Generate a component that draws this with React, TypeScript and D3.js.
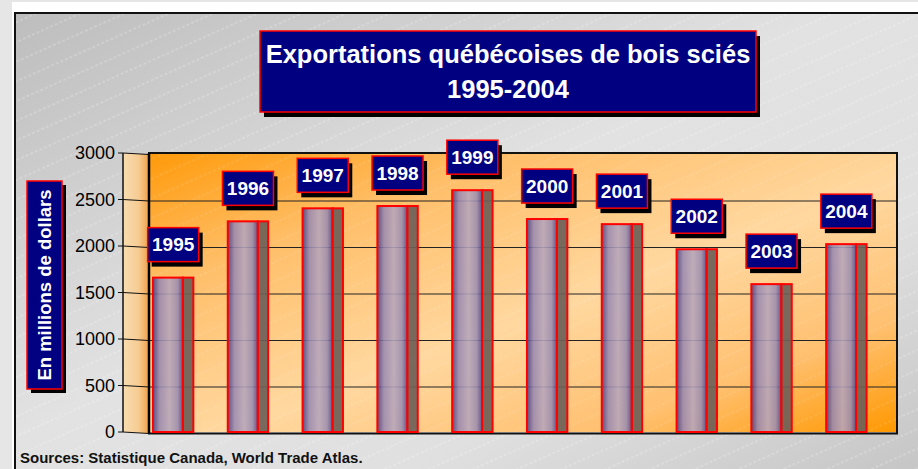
import React from 'react'
import * as d3 from 'd3'

const years = ['1995','1996','1997','1998','1999','2000','2001','2002','2003','2004'];
const exportValues = [1660, 2265, 2405, 2430, 2600, 2290, 2235, 1965, 1590, 2020];
const yTicks = [0, 500, 1000, 1500, 2000, 2500, 3000];

const W = 918;
const H = 469;
const wall = {left:149, right:897, top:153, bottom:432};
const sideX = 123;
const font = '"Liberation Sans", Arial, sans-serif';

export default function App(){
  const x = d3.scaleBand().domain(years).range([wall.left, wall.right]);
  const y = d3.scaleLinear().domain([0,3000]).range([wall.bottom, wall.top]);
  const bw = x.bandwidth();
  const off = bw*0.053, frontW = bw*0.40, sideW = bw*0.14;
  const slant = 1.5;

  return (
    <svg width={W} height={H} style={{position:'absolute',left:0,top:0}}>
      <defs>
        <linearGradient id="panel" x1="0" y1="0" x2="1" y2="1">
          <stop offset="0%" stopColor="#bdbdbd"/>
          <stop offset="45%" stopColor="#e2e2e2"/>
          <stop offset="70%" stopColor="#e0e0e0"/>
          <stop offset="100%" stopColor="#c4c4c4"/>
        </linearGradient>
        <pattern id="hatch" width="40" height="18" patternUnits="userSpaceOnUse" patternTransform="rotate(-24)">
          <line x1="0" y1="9" x2="40" y2="9" stroke="#ffffff" strokeOpacity="0.45" strokeWidth="0.8" strokeDasharray="3 2"/>
        </pattern>
        <linearGradient id="wall" x1="0" y1="0" x2="1" y2="1">
          <stop offset="0%" stopColor="#ff9a0a"/>
          <stop offset="25%" stopColor="#ffbf6a"/>
          <stop offset="55%" stopColor="#ffd8a0"/>
          <stop offset="80%" stopColor="#ffc070"/>
          <stop offset="100%" stopColor="#ff9800"/>
        </linearGradient>
        <linearGradient id="side" x1="0" y1="0" x2="1" y2="0">
          <stop offset="0%" stopColor="#f8dcb0"/>
          <stop offset="60%" stopColor="#f6cc92"/>
          <stop offset="100%" stopColor="#f0a048"/>
        </linearGradient>
        <linearGradient id="front" x1="0" y1="0" x2="1" y2="0">
          <stop offset="0%" stopColor="#483c80"/>
          <stop offset="22%" stopColor="#9888b0"/>
          <stop offset="55%" stopColor="#b6a6bc"/>
          <stop offset="82%" stopColor="#9a8cb0"/>
          <stop offset="100%" stopColor="#52468a"/>
        </linearGradient>
      </defs>

      <rect x={0} y={0} width={W} height={H} fill="#e6e6e6"/>
      <rect x={12} y={2} width={W} height={H} fill="#ffffff"/>
      <rect x={15} y={13} width={W} height={H} fill="url(#panel)" stroke="#111" strokeWidth={2}/>
      <rect x={16} y={14} width={W} height={H} fill="url(#hatch)"/>

      {/* side wall */}
      <polygon points={`${sideX},${y(3000)} ${wall.left},${y(3000)+slant} ${wall.left},${y(0)+slant} ${sideX},${y(0)}`}
        fill="url(#side)"/>
      <line x1={sideX} x2={sideX} y1={y(3000)} y2={y(0)} stroke="#111" strokeWidth={1.5}/>
      {/* back wall */}
      <rect x={wall.left} y={wall.top} width={wall.right-wall.left} height={wall.bottom-wall.top}
        fill="url(#wall)"/>
      <rect x={wall.left} y={wall.top} width={wall.right-wall.left} height={wall.bottom-wall.top}
        fill="url(#hatch)" opacity={0.5}/>

      {/* gridlines and ticks */}
      {yTicks.map(t => (
        <g key={t}>
          <line x1={118} x2={sideX} y1={y(t)} y2={y(t)} stroke="#111" strokeWidth={1}/>
          <line x1={sideX} x2={wall.left} y1={y(t)} y2={y(t)+slant} stroke="#111" strokeWidth={1}/>
          {t>0 && t<3000 && <line x1={wall.left} x2={wall.right} y1={y(t)+slant} y2={y(t)+slant} stroke="#222" strokeWidth={1}/>}
          <text x={115} y={y(t)} dy="0.36em" textAnchor="end" fontFamily={font} fontSize={18} fill="#000">{t}</text>
        </g>
      ))}
      <rect x={wall.left} y={wall.top} width={wall.right-wall.left} height={wall.bottom-wall.top+slant}
        fill="none" stroke="#111" strokeWidth={2}/>
      <line x1={wall.left} x2={wall.left} y1={wall.top} y2={wall.bottom+slant} stroke="#000" strokeWidth={2.5}/>

      {/* bars */}
      {years.map((yr,i) => {
        const x0 = x(yr)! + off;
        const top = y(exportValues[i]);
        return (
          <g key={yr}>
            <rect x={x0+frontW} y={top} width={sideW} height={y(0)-top} fill="#6e6058" fillOpacity={0.92}
              stroke="#ff0000" strokeWidth={2}/>
            <rect x={x0} y={top} width={frontW} height={y(0)-top} fill="url(#front)" fillOpacity={0.88}
              stroke="#ff0000" strokeWidth={2}/>
          </g>
        );
      })}

      {/* year labels */}
      {years.map((yr,i) => {
        const cx = x(yr)! + off + (frontW+sideW)/2;
        const bottom = y(exportValues[i]) - 16;
        const bwid = 51, bh = 34;
        return (
          <g key={'l'+yr}>
            <rect x={cx-bwid/2+4} y={bottom-bh+5} width={bwid} height={bh} fill="#000"/>
            <rect x={cx-bwid/2} y={bottom-bh} width={bwid} height={bh} fill="#000080" stroke="#ff0000" strokeWidth={1.5}/>
            <text x={cx} y={bottom-bh/2} dy="0.36em" textAnchor="middle" fontFamily={font} fontWeight="bold"
              fontSize={19} fill="#fff">{yr}</text>
          </g>
        );
      })}

      {/* title */}
      <rect x={264} y={36} width={496} height={81} fill="#000"/>
      <rect x={260} y={31} width={496} height={81} fill="#000080" stroke="#ff0000" strokeWidth={1.5}/>
      <text x={508} y={63} textAnchor="middle" fontFamily={font} fontWeight="bold" fontSize={25.5} fill="#fff">
        Exportations québécoises de bois sciés
      </text>
      <text x={508} y={98} textAnchor="middle" fontFamily={font} fontWeight="bold" fontSize={25.5} fill="#fff">
        1995-2004
      </text>

      {/* y axis label */}
      <rect x={31} y={185} width={35} height={208} fill="#000"/>
      <rect x={27} y={181} width={35} height={208} fill="#000080" stroke="#ff0000" strokeWidth={1.5}/>
      <text transform="translate(44.5,285) rotate(-90)" textAnchor="middle" dy="0.36em" fontFamily={font}
        fontWeight="bold" fontSize={18.5} fill="#fff">En millions de dollars</text>

      <text x={20} y={463} fontFamily={font} fontWeight="bold" fontSize={15} fill="#111">
        Sources: Statistique Canada, World Trade Atlas.
      </text>
    </svg>
  )
}
